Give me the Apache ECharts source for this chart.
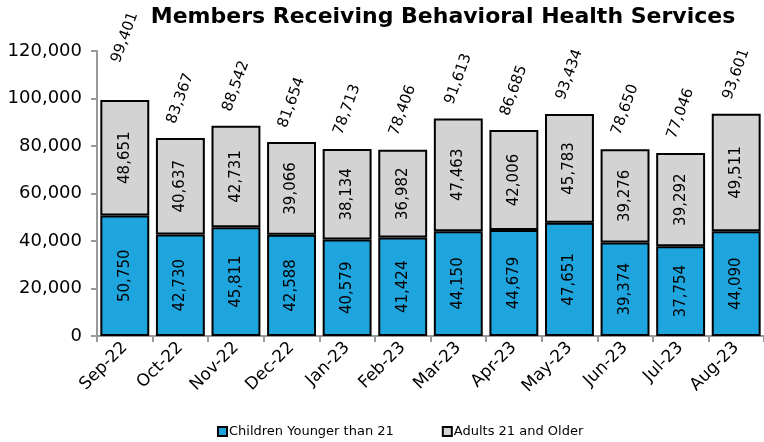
<!DOCTYPE html>
<html>
<head>
<meta charset="utf-8">
<script src="https://cdn.jsdelivr.net/npm/echarts@6/dist/echarts.min.js"></script>
<style>
  html, body { margin: 0; padding: 0; background: #fff; }
  #chart { width: 764px; height: 442px; }
</style>
</head>
<body>
<div id="chart"></div>
<script>
// data
const months = ["Sep-22", "Oct-22", "Nov-22", "Dec-22", "Jan-23", "Feb-23", "Mar-23", "Apr-23", "May-23", "Jun-23", "Jul-23", "Aug-23"];
const children = [50750, 42730, 45811, 42588, 40579, 41424, 44150, 44679, 47651, 39374, 37754, 44090];
const adults = [48651, 40637, 42731, 39066, 38134, 36982, 47463, 42006, 45783, 39276, 39292, 49511];
const totals = [99401, 83367, 88542, 81654, 78713, 78406, 91613, 86685, 93434, 78650, 77046, 93601];

const FONT = "DejaVu Sans";
const fmt = v => v.toLocaleString("en-US");

const chart = echarts.init(document.getElementById("chart"));

const innerLabel = {
  show: true,
  position: "inside",
  rotate: 90,
  color: "#000",
  fontFamily: FONT,
  fontSize: 15,
  formatter: p => fmt(p.value)
};

// the first total label sits higher in the original
const totalData = totals.map((v, i) => i === 0 ? { value: v, label: { distance: 62 } } : v);

chart.setOption({
  animation: false,
  textStyle: { fontFamily: FONT },
  title: {
    text: "Members Receiving Behavioral Health Services",
    left: 438,
    top: 1,
    textAlign: "center",
    textStyle: { fontFamily: FONT, fontSize: 22, fontWeight: "bold", color: "#000" }
  },
  legend: {
    data: ["Children Younger than 21", "Adults 21 and Older"],
    bottom: -1,
    left: 212,
    itemWidth: 9,
    itemHeight: 9,
    itemGap: 48,
    icon: "rect",
    textStyle: { fontFamily: FONT, fontSize: 13, color: "#000", padding: [0, 0, 0, -3] }
  },
  grid: { left: 97, right: -5, top: 51, bottom: 106, containLabel: false },
  xAxis: {
    type: "category",
    data: months,
    axisLine: { lineStyle: { color: "#999", width: 2 } },
    axisTick: { show: true, length: 6, alignWithLabel: false, lineStyle: { color: "#999", width: 2 } },
    axisLabel: { rotate: 45, color: "#000", fontFamily: FONT, fontSize: 17, margin: 9, interval: 0 }
  },
  yAxis: {
    type: "value",
    min: 0,
    max: 120000,
    interval: 20000,
    axisLine: { show: true, lineStyle: { color: "#999", width: 2 } },
    axisTick: { show: true, length: 6, lineStyle: { color: "#999", width: 2 } },
    splitLine: { show: false },
    axisLabel: { color: "#000", fontFamily: FONT, fontSize: 18, margin: 15, formatter: v => fmt(v) }
  },
  series: [
    {
      name: "Children Younger than 21",
      type: "bar",
      stack: "members",
      data: children,
      barCategoryGap: "12%",
      itemStyle: { color: "#1ea5de", borderColor: "#000", borderWidth: 2 },
      label: innerLabel
    },
    {
      name: "Adults 21 and Older",
      type: "bar",
      stack: "members",
      data: adults,
      itemStyle: { color: "#d3d3d3", borderColor: "#000", borderWidth: 2 },
      label: innerLabel
    },
    {
      // invisible carrier for the total labels above each stack
      name: "Total",
      type: "line",
      data: totalData,
      symbol: "circle",
      symbolSize: 1,
      showSymbol: true,
      itemStyle: { color: "rgba(0,0,0,0)" },
      lineStyle: { width: 0, color: "rgba(0,0,0,0)" },
      silent: true,
      z: 10,
      label: {
        show: true,
        position: "top",
        distance: 39,
        rotate: 70,
        align: "center",
        verticalAlign: "middle",
        color: "#000",
        fontFamily: FONT,
        fontSize: 15,
        formatter: p => fmt(p.value)
      }
    }
  ]
});
</script>
</body>
</html>
